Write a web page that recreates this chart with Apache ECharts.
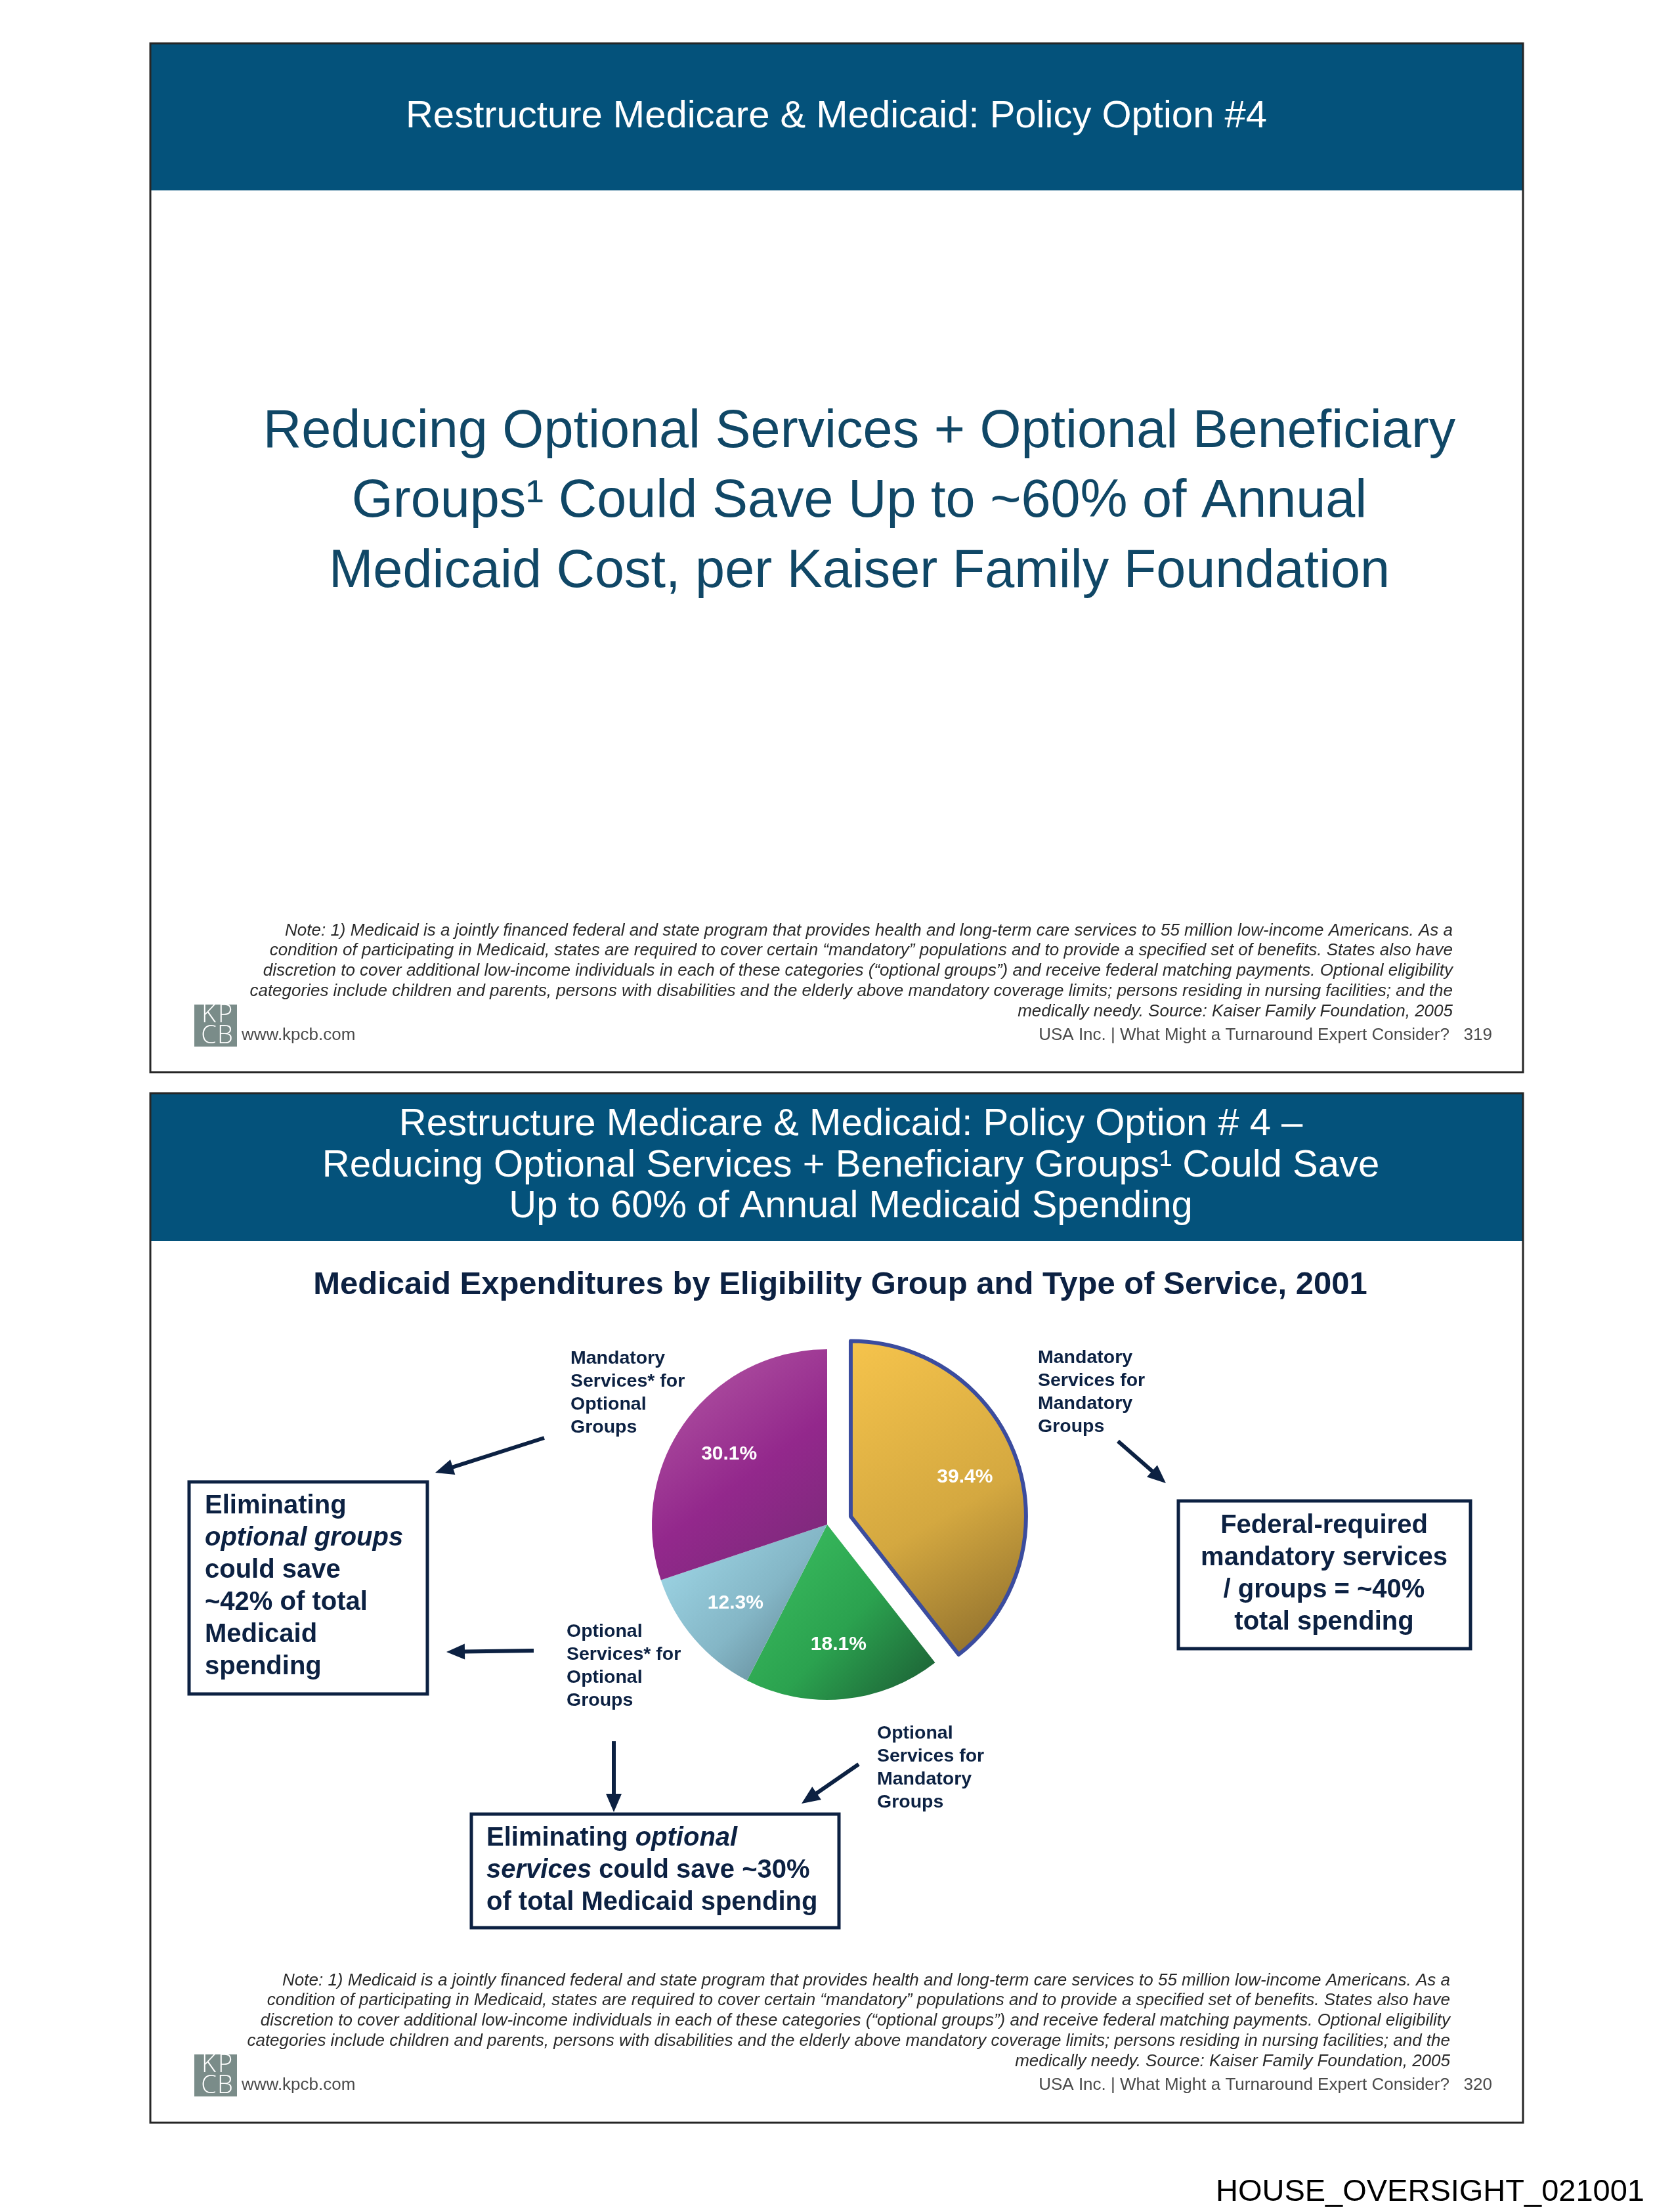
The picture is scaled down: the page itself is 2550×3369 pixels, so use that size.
<!DOCTYPE html>
<html>
<head>
<meta charset="utf-8">
<script src="https://cdn.jsdelivr.net/npm/echarts@6.0.0/dist/echarts.min.js"></script>
<style>
html,body{margin:0;padding:0;background:#ffffff;}
#chart{width:2550px;height:3369px;}
</style>
</head>
<body>
<div id="chart"></div>
<script>
// ---------------- DATA ----------------
const sliceNames = [
  'Mandatory Services for Mandatory Groups',
  'Optional Services for Mandatory Groups',
  'Optional Services* for Optional Groups',
  'Mandatory Services* for Optional Groups'
];
const sliceValues = [39.4, 18.1, 12.3, 30.1];
const sliceGradients = [
  ['#f6c44c', '#d4a840', '#86682b'],
  ['#3dc262', '#2ba24f', '#1b5a33'],
  ['#a2dbeb', '#84b6c6', '#587a88'],
  ['#b65ca6', '#93288c', '#772a76']
];
const explodedSlice = 0;

const slide1Title = 'Restructure Medicare & Medicaid: Policy Option #4';
const slide1Headline = [
  'Reducing Optional Services + Optional Beneficiary',
  'Groups\u00B9 Could Save Up to ~60% of Annual',
  'Medicaid Cost, per Kaiser Family Foundation'
];
const slide2Header = [
  'Restructure Medicare & Medicaid: Policy Option # 4 \u2013',
  'Reducing Optional Services + Beneficiary Groups\u00B9 Could Save',
  'Up to 60% of Annual Medicaid Spending'
];
const chartTitle = 'Medicaid Expenditures by Eligibility Group and Type of Service, 2001';
const noteLines = [
  'Note: 1) Medicaid is a jointly financed federal and state program that provides health and long-term care services to 55 million low-income Americans. As a',
  'condition of participating in Medicaid, states are required to cover certain \u201Cmandatory\u201D populations and to provide a specified set of benefits. States also have',
  'discretion to cover additional low-income individuals in each of these categories (\u201Coptional groups\u201D) and receive federal matching payments. Optional eligibility',
  'categories include children and parents, persons with disabilities and the elderly above mandatory coverage limits; persons residing in nursing facilities; and the',
  'medically needy. Source: Kaiser Family Foundation, 2005'
];
const footerLeft = 'www.kpcb.com';
const footerRight = 'USA Inc. | What Might a Turnaround Expert Consider?';
const pageNumbers = ['319', '320'];
const labelMandSvcOptGrp = ['Mandatory', 'Services* for', 'Optional', 'Groups'];
const labelMandSvcMandGrp = ['Mandatory', 'Services for', 'Mandatory', 'Groups'];
const labelOptSvcOptGrp = ['Optional', 'Services* for', 'Optional', 'Groups'];
const labelOptSvcMandGrp = ['Optional', 'Services for', 'Mandatory', 'Groups'];
const boxLeftLines = [
  [['b', 'Eliminating']],
  [['bi', 'optional groups']],
  [['b', 'could save']],
  [['b', '~42% of total']],
  [['b', 'Medicaid']],
  [['b', 'spending']]
];
const boxRightLines = ['Federal-required', 'mandatory services', '/ groups = ~40%', 'total spending'];
const boxBottomLines = [
  [['b', 'Eliminating '], ['bi', 'optional']],
  [['bi', 'services'], ['b', ' could save ~30%']],
  [['b', 'of total Medicaid spending']]
];
const docId = 'HOUSE_OVERSIGHT_021001';

// ---------------- STYLE ----------------
const FONT = '"Liberation Sans", Arial, Helvetica, sans-serif';
const NAVY = '#0c2142';
const BAND = '#04527b';
const HEAD = '#104766';
const els = [];

function txt(x, baseline, text, fs, o) {
  o = o || {};
  els.push({
    type: 'text', x: x, y: baseline - 0.3465 * fs, z: 20,
    style: {
      text: text, fontFamily: o.family || FONT, fontSize: fs,
      fontWeight: o.weight || 'normal', fontStyle: o.style || 'normal',
      fill: o.fill || '#000', align: o.align || 'left', verticalAlign: 'middle'
    }
  });
}
function richLine(x, baseline, parts, fs, fill) {
  const rich = {
    b: {fontFamily: FONT, fontSize: fs, fontWeight: 'bold', fontStyle: 'normal', fill: fill},
    bi: {fontFamily: FONT, fontSize: fs, fontWeight: 'bold', fontStyle: 'italic', fill: fill}
  };
  const text = parts.map(p => '{' + p[0] + '|' + p[1] + '}').join('');
  els.push({
    type: 'text', x: x, y: baseline - 0.3465 * fs, z: 20,
    style: {text: text, rich: rich, fontFamily: FONT, fontSize: fs, fontWeight: 'bold',
      fill: fill, align: 'left', verticalAlign: 'middle'}
  });
}
function rect(x, y, w, h, style, z) {
  els.push({type: 'rect', shape: {x: x, y: y, width: w, height: h}, style: style, z: z || 5});
}
function arrow(x1, y1, x2, y2) {
  const dx = x2 - x1, dy = y2 - y1, L = Math.hypot(dx, dy), ux = dx / L, uy = dy / L;
  const hl = 28, hw = 12;
  const bx = x2 - ux * hl, by = y2 - uy * hl;
  els.push({type: 'line', z: 15, shape: {x1: x1, y1: y1, x2: bx + ux * 2, y2: by + uy * 2},
    style: {stroke: NAVY, lineWidth: 6}});
  els.push({type: 'polygon', z: 15, shape: {points: [[x2, y2], [bx - uy * hw, by + ux * hw], [bx + uy * hw, by - ux * hw]]},
    style: {fill: NAVY}});
}
function logo(x, y) {
  rect(x, y, 65, 64, {fill: '#7a8c89'}, 10);
  const lf = '"Open Sans", "Liberation Sans", sans-serif';
  [['K', 22, 29], ['P', 47, 29], ['C', 22, 61], ['B', 47, 61]].forEach(function (l) {
    txt(x + l[1], y + l[2], l[0], 38, {fill: '#ffffff', align: 'center', family: lf, weight: 300});
  });
}
function notes(rightX, baselines) {
  noteLines.forEach(function (t, i) {
    txt(rightX, baselines[i], t, 26, {style: 'italic', fill: '#2a2a2a', align: 'right'});
  });
}
function footer(logoTop, pageNo) {
  logo(296, logoTop);
  txt(368, logoTop + 56, footerLeft, 26, {fill: '#4a4a4a'});
  txt(2273, logoTop + 56, footerRight + '   ' + pageNo, 26, {fill: '#4a4a4a', align: 'right'});
}

// ---------------- SLIDE 1 ----------------
rect(229, 66, 2091, 224, {fill: BAND}, 3);
rect(229, 66, 2091, 1567, {fill: 'transparent', stroke: '#262626', lineWidth: 3}, 12);
txt(1274, 198, slide1Title, 58, {fill: '#ffffff', align: 'center'});
slide1Headline.forEach(function (t, i) {
  txt(1309, [687, 793, 900][i], t, 81, {fill: HEAD, align: 'center'});
});
notes(2213, [1427, 1457, 1488, 1519, 1550]);
footer(1530, pageNumbers[0]);

// ---------------- SLIDE 2 ----------------
rect(229, 1665, 2091, 225, {fill: BAND}, 3);
rect(229, 1665, 2091, 1568, {fill: 'transparent', stroke: '#262626', lineWidth: 3}, 12);
slide2Header.forEach(function (t, i) {
  txt(1296, [1733, 1796, 1858][i], t, 58, {fill: '#ffffff', align: 'center'});
});
txt(1280, 1974, chartTitle, 49, {fill: NAVY, align: 'center', weight: 'bold'});

function labelBlock(x, firstBaseline, lines) {
  lines.forEach(function (t, i) {
    txt(x, firstBaseline + i * 35, t, 28.5, {fill: NAVY, weight: 'bold'});
  });
}
labelBlock(869, 2079, labelMandSvcOptGrp);
labelBlock(1581, 2078, labelMandSvcMandGrp);
labelBlock(863, 2495, labelOptSvcOptGrp);
labelBlock(1336, 2650, labelOptSvcMandGrp);

// boxes
rect(288, 2257, 363, 323, {fill: 'transparent', stroke: NAVY, lineWidth: 5}, 12);
boxLeftLines.forEach(function (parts, i) { richLine(312, 2308 + i * 49, parts, 40, NAVY); });
rect(1795, 2286, 445, 225, {fill: 'transparent', stroke: NAVY, lineWidth: 5}, 12);
boxRightLines.forEach(function (t, i) {
  txt(2017, 2338 + i * 49, t, 40, {fill: NAVY, weight: 'bold', align: 'center'});
});
rect(718, 2763, 560, 173, {fill: 'transparent', stroke: NAVY, lineWidth: 5}, 12);
boxBottomLines.forEach(function (parts, i) { richLine(741, 2814 + i * 49, parts, 40, NAVY); });

// arrows
arrow(829, 2190, 663, 2243);
arrow(813, 2514, 680, 2516);
arrow(1703, 2195, 1776, 2259);
arrow(935, 2652, 935, 2760);
arrow(1308, 2687, 1221, 2747);

notes(2209, [3026, 3056, 3087, 3118, 3149]);
footer(3129, pageNumbers[1]);
txt(2505, 3355, docId, 47, {fill: '#000000', align: 'right'});

// ---------------- PIE ----------------
const pieCenter = [1260, 2322];
const pieData = sliceNames.map(function (n, i) {
  const g = sliceGradients[i];
  const color = new echarts.graphic.LinearGradient(0, 0, 1, 1, [
    {offset: 0, color: g[0]}, {offset: 0.55, color: g[1]}, {offset: 1, color: g[2]}
  ]);
  const isEx = i === explodedSlice;
  const st = {color: color, borderColor: isEx ? '#3b4c9e' : 'rgba(0,0,0,0)', borderWidth: isEx ? 6 : 0};
  return {name: n, value: sliceValues[i], selected: isEx, itemStyle: st, select: {itemStyle: st}};
});
const labelData = sliceNames.map(function (n, i) {
  return {name: n, value: sliceValues[i], selected: i === explodedSlice};
});

const option = {
  animation: false,
  backgroundColor: '#ffffff',
  series: [
    {
      type: 'pie', z: 8,
      center: pieCenter, radius: 267,
      startAngle: 90, clockwise: true,
      selectedMode: 'single', selectedOffset: 38,
      label: {show: false}, labelLine: {show: false},
      emphasis: {disabled: true},
      data: pieData
    },
    {
      type: 'pie', z: 9, silent: true,
      center: pieCenter, radius: [100, 262],
      startAngle: 90, clockwise: true,
      selectedMode: 'single', selectedOffset: 38,
      itemStyle: {color: 'rgba(0,0,0,0)', borderWidth: 0},
      select: {itemStyle: {color: 'rgba(0,0,0,0)', borderWidth: 0}},
      emphasis: {disabled: true},
      label: {show: true, position: 'inside', formatter: '{c}%', color: '#ffffff',
        fontFamily: FONT, fontSize: 30, fontWeight: 'bold'},
      labelLine: {show: false},
      data: labelData
    }
  ],
  graphic: {elements: els}
};

const chart = echarts.init(document.getElementById('chart'), null, {renderer: 'canvas', width: 2550, height: 3369});
chart.setOption(option);
</script>
</body>
</html>
